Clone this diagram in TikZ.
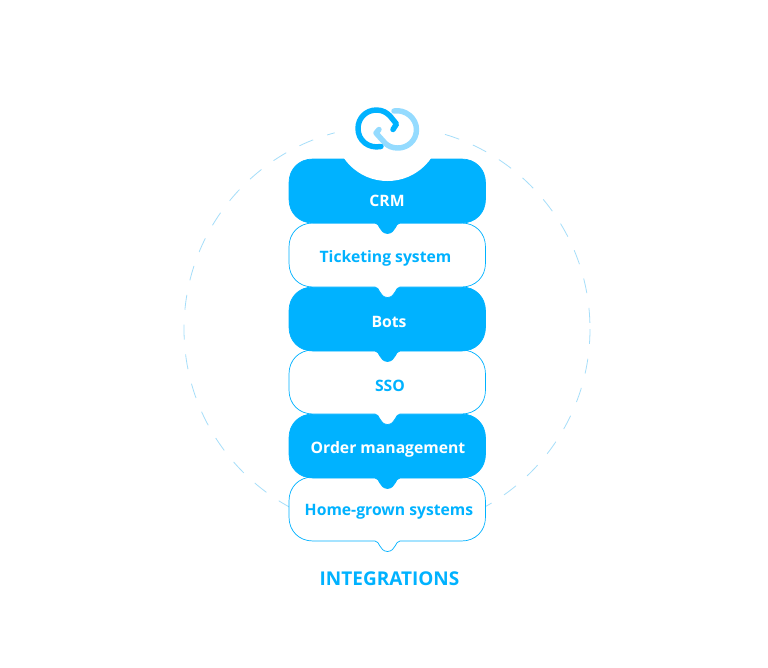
\documentclass[tikz,border=0pt]{standalone}
\usepackage{fontspec}
\setmainfont{Open Sans}
\usetikzlibrary{arrows.meta,positioning}
\definecolor{sky}{RGB}{0,178,255}
\definecolor{skylight}{RGB}{148,219,255}
\definecolor{ringdash}{RGB}{165,222,250}

\begin{document}
\begin{tikzpicture}[x=0.02cm,y=-0.02cm,font=\fontsize{8.95}{10}\selectfont\bfseries,
  filled/.style={fill=sky,draw=sky,line width=0.4pt},
  hollow/.style={fill=white,draw=sky,line width=0.4pt},
  filledtxt/.style={text=white,inner sep=0pt,anchor=base},
  hollowtxt/.style={text=sky,inner sep=0pt,anchor=base},
  link/.style={line width=3.1pt,line cap=round,line join=round}]
  \useasboundingbox[fill=white] (0,0) rectangle (768,667);
  \draw[ringdash,line width=0.45pt,dash pattern=on 8.5pt off 8.5pt] (387,329) circle[radius=203];
  % stack, lowest block first so each tab lies on the next block
  \foreach \y/\sty/\name/\cx/\by/\lbl in {477/hollow/home/389/515/Home-grown systems,
      414/filled/order/388/453/Order management,350/hollow/sso/390/391/SSO,
      287/filled/bots/389/327/Bots,223/hollow/ticket/385.5/262/Ticketing system,159/filled/crm/387/206/CRM}{
    \path[\sty,shift={(0,\y)}] (313,0) -- (461.5,0)
      .. controls (475.5,0) and (485.5,10) .. (485.5,24) -- (485.5,40)
      .. controls (485.5,54) and (475.5,64) .. (461.5,64) -- (400,64)
      .. controls (395,64) and (396,74) .. (387.5,74.5)
      .. controls (379,74) and (380,64) .. (375,64) -- (313,64)
      .. controls (299,64) and (289,54) .. (289,40) -- (289,24)
      .. controls (289,10) and (299,0) .. (313,0) -- cycle;
    \node[\sty txt] (\name) at (\cx,\by) {\lbl};
  }
  \fill[white] (387.5,128) circle[radius=53];
  % link icon
  \draw[link,skylight] (394,111) .. controls (405,109) and (416.5,118) .. (416.5,129.5)
    .. controls (416.5,141) and (407,148) .. (398,148)
    .. controls (392,148) and (388,146) .. (385,143) -- (376,133) -- (379,129.5);
  \draw[link,sky] (381,146.5) .. controls (368,149) and (358,140) .. (358,128.5)
    .. controls (358,118) and (366,110) .. (376.5,110)
    .. controls (383,110) and (387,113) .. (390,116) -- (396.5,124) -- (393,129.5);
  \node[text=sky,inner sep=0pt,anchor=base,font=\fontsize{10.8}{12}\selectfont\bfseries] (title) at (389.5,585) {INTEGRATIONS};
\end{tikzpicture}
\end{document}
